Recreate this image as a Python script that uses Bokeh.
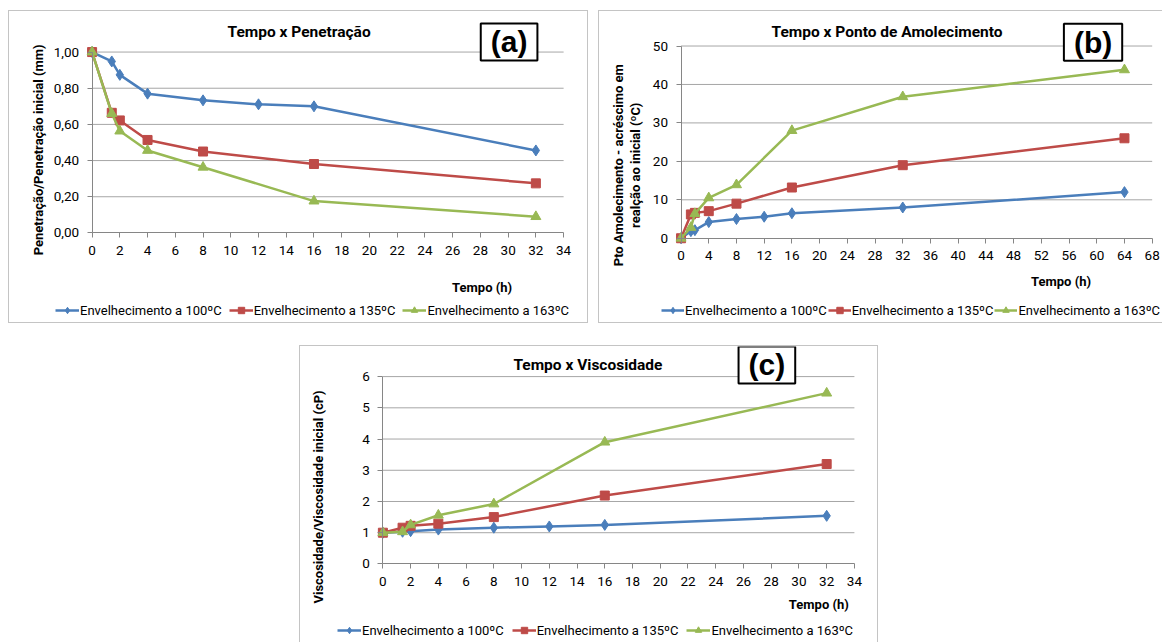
import math
from bokeh.plotting import figure
from bokeh.models import Range1d, FixedTicker, CustomJSTickFormatter, Label, Legend, LegendItem, Spacer
from bokeh.layouts import row, column
from bokeh.embed import file_html
from bokeh.resources import INLINE

FONT = "Roboto"
BOXFONT = "Liberation Sans"
C100, C135, C163 = "#4a7ebb", "#be4b48", "#98b954"
SERIES_LABELS = ["Envelhecimento a 100ºC", "Envelhecimento a 135ºC", "Envelhecimento a 163ºC"]

# ---- (a) Tempo x Penetração ----
t_a_100 = [0, 1.42, 2, 4, 8, 12, 16, 32]
pen_100 = [1.00, 0.948, 0.874, 0.77, 0.733, 0.711, 0.70, 0.456]
t_a_135 = [0, 1.42, 2, 4, 8, 16, 32]
pen_135 = [1.00, 0.664, 0.622, 0.514, 0.45, 0.381, 0.274]
t_a_163 = [0, 1.42, 2, 4, 8, 16, 32]
pen_163 = [1.00, 0.66, 0.563, 0.456, 0.363, 0.176, 0.09]
xticks_a = list(range(0, 35, 2))
yticks_a = [0, 0.2, 0.4, 0.6, 0.8, 1.0]

# ---- (b) Tempo x Ponto de Amolecimento ----
t_b_100 = [0, 1.42, 2, 4, 8, 12, 16, 32, 64]
pa_100 = [0, 1.85, 2.1, 4.2, 5.0, 5.6, 6.5, 8.0, 12.0]
t_b_135 = [0, 1.42, 2, 4, 8, 16, 32, 64]
pa_135 = [0, 6.2, 6.6, 7.05, 9.0, 13.2, 19.0, 26.0]
t_b_163 = [0, 1.42, 2, 4, 8, 16, 32, 64]
pa_163 = [0, 2.8, 6.4, 10.5, 13.9, 28.0, 36.8, 43.8]
xticks_b = list(range(0, 69, 4))
yticks_b = [0, 10, 20, 30, 40, 50]

# ---- (c) Tempo x Viscosidade ----
t_c_100 = [0, 1.42, 2, 4, 8, 12, 16, 32]
vis_100 = [1.0, 1.03, 1.05, 1.1, 1.16, 1.2, 1.25, 1.54]
t_c_135 = [0, 1.42, 2, 4, 8, 16, 32]
vis_135 = [1.0, 1.16, 1.22, 1.29, 1.5, 2.19, 3.2]
t_c_163 = [0, 1.42, 2, 4, 8, 16, 32]
vis_163 = [1.0, 1.03, 1.25, 1.56, 1.92, 3.9, 5.47]
xticks_c = list(range(0, 35, 2))
yticks_c = [0, 1, 2, 3, 4, 5, 6]

BORDER = "1px solid #c4c4c4"
TICK_SIZE = "13.5px"
LEGEND_SIZE = "13px"
AXTITLE_SIZE = "13px"
TITLE_SIZE = "15.5px"


def ranges(canvas, plot, xmax, ymax):
    # canvas: (left, top, width, height) page px; plot: (x0px, x1px, y0px, y1px)
    cx0, cy0, cw, ch = canvas
    X0, X1, Y0, Y1 = plot
    ux = xmax / (X1 - X0)
    uy = ymax / (Y0 - Y1)
    xr = (-(X0 - cx0) * ux, xmax + (cx0 + cw - X1) * ux)
    yr = (-(cy0 + ch - Y0) * uy, ymax + (Y1 - cy0) * uy)
    return xr, yr


def base_fig(w, h, canvas, plot, xticks, yticks, styles):
    xr, yr = ranges(canvas, plot, xticks[-1], yticks[-1])
    p = figure(width=w, height=h, x_range=Range1d(*xr), y_range=Range1d(*yr),
               output_backend="svg", toolbar_location=None,
               min_border_left=0, min_border_right=0, min_border_top=0, min_border_bottom=0)
    p.title.visible = False
    p.outline_line_color = None
    p.background_fill_color = "white"
    p.border_fill_color = "white"
    p.xgrid.visible = False
    p.ygrid.visible = False
    gy = yticks[1:]
    p.segment(x0=[0] * len(gy), y0=gy, x1=[xticks[-1]] * len(gy), y1=gy,
              line_color="#a6a6a6", line_width=1)
    for ax, ticks in ((p.xaxis, xticks), (p.yaxis, yticks)):
        ax.ticker = FixedTicker(ticks=ticks, minor_ticks=[])
        ax.fixed_location = 0
        ax.bounds = (ticks[0], ticks[-1])
        ax.axis_line_color = "#868686"
        ax.major_tick_line_color = "#868686"
        ax.major_tick_out = 5
        ax.major_tick_in = 0
        ax.minor_tick_out = 0
        ax.minor_tick_in = 0
        ax.major_label_text_font = FONT
        ax.major_label_text_font_size = TICK_SIZE
        ax.major_label_text_color = "#000000"
    p.xaxis.major_label_standoff = 8
    p.yaxis.major_label_standoff = 8
    p.styles = styles
    return p


def add_series(p, x, y, color, marker, size):
    l = p.line(x, y, line_color=color, line_width=2.5, line_join="round")
    s = p.scatter(x, y, marker=marker, size=size, fill_color=color, line_color=color)
    return [l, s]


def add_legend(p, rs, loc, spacing, glyph_width=24):
    items = [LegendItem(label=lab, renderers=r) for lab, r in zip(SERIES_LABELS, rs)]
    lg = Legend(items=items, location=loc, orientation="horizontal",
                glyph_width=glyph_width, glyph_height=16, label_height=16, label_standoff=1,
                spacing=spacing, padding=0, margin=0, border_line_alpha=0,
                background_fill_alpha=0, label_text_font=FONT,
                label_text_font_size=LEGEND_SIZE, label_text_color="#000000")
    p.add_layout(lg)


def add_text(p, text, dx, dy, size=AXTITLE_SIZE, angle=0.0):
    p.add_layout(Label(x=0, y=0, x_offset=dx, y_offset=dy, text=text, text_font=FONT,
                       text_font_size=size, text_font_style="bold", text_color="#000000",
                       text_align="center", text_baseline="middle", angle=angle))


def add_box(p, text, dx, dy):
    p.add_layout(Label(x=0, y=0, x_offset=dx, y_offset=dy, text=text, text_font=BOXFONT,
                       text_font_size="30px", text_font_style="bold", text_color="#000000",
                       text_align="center", text_baseline="middle",
                       border_line_color="black", border_line_width=2,
                       background_fill_color="white", padding=(10, 2)))


def series_all(p, xs, ys):
    return [add_series(p, xs[0], ys[0], C100, "diamond", 11),
            add_series(p, xs[1], ys[1], C135, "square", 9),
            add_series(p, xs[2], ys[2], C163, "triangle", 10)]


# ----- figure (a) -----
pa = base_fig(580, 313, (9, 11, 578, 311), (91.3, 561.2, 231, 51.3),
              xticks_a, yticks_a, {"border": BORDER})
pa.yaxis.formatter = CustomJSTickFormatter(code="return tick.toFixed(2).replace('.', ',');")
ra = series_all(pa, [t_a_100, t_a_135, t_a_163], [pen_100, pen_135, pen_163])
add_legend(pa, ra, (46, 6), 7)
add_text(pa, "Tempo x Penetração", 207, 201, TITLE_SIZE)
add_text(pa, "Tempo (h)", 390, -55)
add_text(pa, "Penetração/Penetração inicial (mm)", -54, 83, angle=math.pi / 2)
add_box(pa, "(a)", 417, 191)

# ----- figure (b) -----
pb = base_fig(564, 313, (599, 11, 563, 311), (680.4, 1150.7, 236.3, 45.3),
              xticks_b, yticks_b,
              {"border-top": BORDER, "border-left": BORDER, "border-bottom": BORDER})
rb = series_all(pb, [t_b_100, t_b_135, t_b_163], [pa_100, pa_135, pa_163])
add_legend(pb, rb, (62, 6), 1, glyph_width=23)
add_text(pb, "Tempo x Ponto de Amolecimento", 206, 206, TITLE_SIZE)
add_text(pb, "Tempo (h)", 380, -43)
add_text(pb, "Pto Amolecimento - acréscimo em", -63, 73, angle=math.pi / 2)
add_text(pb, "realção ao inicial (ºC)", -46, 73, angle=math.pi / 2)
add_box(pb, "(b)", 412, 196)

# ----- figure (c) -----
pc = base_fig(579, 297, (300, 346, 577, 296), (382.1, 852, 562.7, 376),
              xticks_c, yticks_c,
              {"border-top": BORDER, "border-left": BORDER, "border-right": BORDER})
rc = series_all(pc, [t_c_100, t_c_135, t_c_163], [vis_100, vis_135, vis_163])
add_legend(pc, rc, (37, 5), 8)
add_text(pc, "Tempo x Viscosidade", 205, 199, TITLE_SIZE)
add_text(pc, "Tempo (h)", 436, -41)
add_text(pc, "Viscosidade/Viscosidade inicial (cP)", -64, 67, angle=math.pi / 2)
add_box(pc, "(c)", 384, 199)

layout = column(Spacer(height=10),
                row(Spacer(width=8), pa, Spacer(width=10), pb),
                Spacer(height=22),
                row(Spacer(width=299), pc))

open("out.html", "w").write(file_html(layout, INLINE))
